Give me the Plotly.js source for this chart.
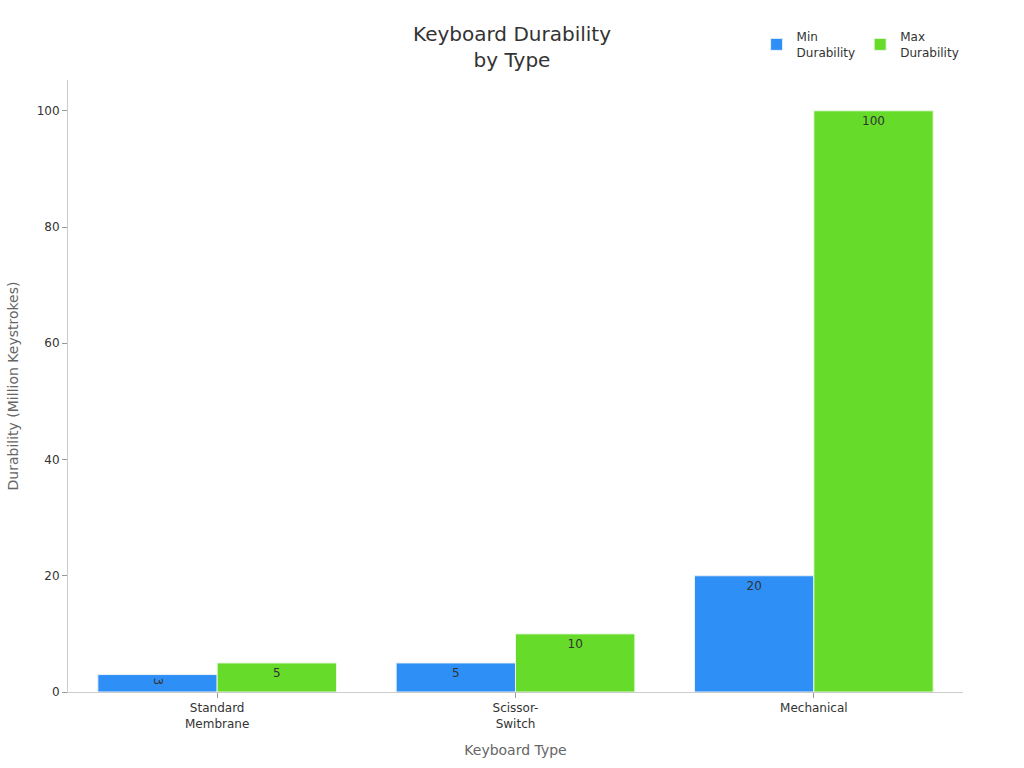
<!DOCTYPE html>
<html><head><meta charset="utf-8">
<script src="https://cdn.plot.ly/plotly-3.0.1.min.js"></script>
<style>body{margin:0;background:#fff}#c{width:1024px;height:768px}</style>
</head><body><div id="c"></div>
<script>
var categories = ["Standard<br>Membrane", "Scissor-<br>Switch", "Mechanical"];
var minDurability = [3, 5, 20];
var maxDurability = [5, 10, 100];
var seriesNames = ["Min<br>Durability", "Max<br>Durability"];

var font = "DejaVu Sans, sans-serif";
var traces = [
  {type:"bar", name:seriesNames[0], x:categories, y:minDurability, text:minDurability.map(String),
   textposition:"inside", insidetextanchor:"end", insidetextfont:{color:"#333", size:12, family:font},
   marker:{color:"#2E90F7", line:{color:"#E8F0F8", width:1}}},
  {type:"bar", name:seriesNames[1], x:categories, y:maxDurability, text:maxDurability.map(String),
   textposition:"inside", insidetextanchor:"end", insidetextfont:{color:"#333", size:12, family:font},
   marker:{color:"#66DB29", line:{color:"#E8F8E0", width:1}}}
];
var layout = {
  width:1024, height:768,
  margin:{l:68, r:61, t:80, b:76, autoexpand:false},
  paper_bgcolor:"#fff", plot_bgcolor:"#fff",
  font:{family:font, size:12, color:"#333"},
  title:{text:"Keyboard Durability<br>by Type", x:0.5, xanchor:"center", y:0.946, yanchor:"top", font:{size:20, color:"#333", family:font}},
  barmode:"group", bargap:0.2, bargroupgap:0,
  legend:{orientation:"h", xref:"container", yref:"container", x:0.942, xanchor:"right", y:0.971, yanchor:"top", font:{size:12}},
  xaxis:{title:{text:"Keyboard Type", font:{size:14, color:"#666"}, standoff:15}, showline:true, linecolor:"#ccc",
         ticks:"outside", tickcolor:"#999", ticklen:5, tickfont:{size:12}, automargin:false},
  yaxis:{title:{text:"Durability (Million Keystrokes)", font:{size:14, color:"#666"}, standoff:14}, range:[0,105.3],
         showline:true, linecolor:"#ccc", showgrid:false, zeroline:false, automargin:false,
         ticks:"outside", tickcolor:"#999", ticklen:5, dtick:20, tickfont:{size:12}}
};
Plotly.newPlot("c", traces, layout, {displayModeBar:false});
</script></body></html>
